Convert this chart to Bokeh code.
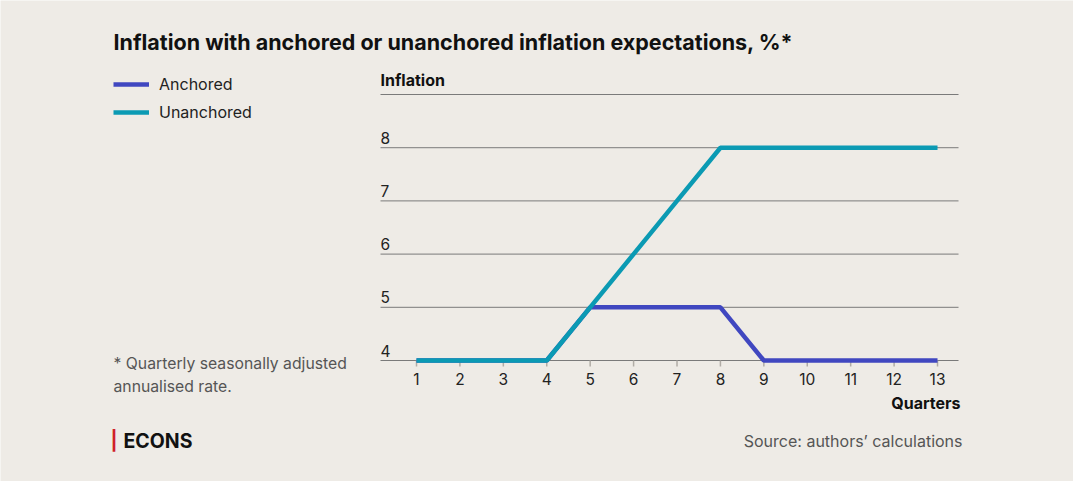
import math
from bokeh.plotting import figure
from bokeh.models import Label, Legend, LegendItem, Range1d
from bokeh.core.properties import value
from bokeh.embed import file_html
from bokeh.resources import INLINE

# ---- data ----
quarters = [1, 2, 3, 4, 5, 6, 7, 8, 9, 10, 11, 12, 13]
anchored = [4, 4, 4, 4, 5, 5, 5, 5, 4, 4, 4, 4, 4]
unanchored = [4, 4, 4, 4, 5, 6, 7, 8, 8, 8, 8, 8, 8]
x_tick_labels = [str(q) for q in quarters]
y_ticks = [4, 5, 6, 7, 8]
y_tick_labels = ["4", "5", "6", "7", "8"]
y_top = 9
y_top_label = "Inflation"

title_text = "Inflation with anchored or unanchored inflation expectations, %*"
note_lines = ["* Quarterly seasonally adjusted", "annualised rate."]
source_text = "Source: authors\u2019 calculations"
brand_text = "ECONS"
x_title = "Quarters"

BG = "#EEEBE6"
C_ANCH = "#4047C0"
C_UNANCH = "#0B9AB3"
FONT = "Inter"

W, H = 1073, 481
# data window of the whole canvas (frame == canvas)
X_START, X_END = -8.5815, 16.132
Y_START, Y_END = 1.7256, 10.767
# plotting area extent along x
PX0, PX1 = 0.171, 13.484

p = figure(width=W, height=H, output_backend="svg", toolbar_location=None,
           x_range=Range1d(X_START, X_END), y_range=Range1d(Y_START, Y_END),
           min_border=0)
p.background_fill_color = BG
p.border_fill_color = BG
p.outline_line_color = None
p.xaxis.visible = False
p.yaxis.visible = False
p.grid.visible = False

all_y = y_ticks + [y_top]
# horizontal gridlines
p.segment(x0=[PX0] * len(all_y), x1=[PX1] * len(all_y), y0=all_y, y1=all_y,
          line_color="#7a7a7a", line_width=1, level="underlay")
# x ticks
p.ray(x=quarters, y=[y_ticks[0]] * len(quarters), length=6, length_units="screen",
      angle=-math.pi / 2, line_color="#b0aca6", line_width=1.5, level="underlay")
# x tick labels
p.text(x=quarters, y=[y_ticks[0]] * len(quarters), text=x_tick_labels,
       text_font=value(FONT), text_font_size="15.5px", text_color="#222222",
       text_align="center", text_baseline="top", y_offset=12)
# y tick labels (above gridlines)
p.text(x=[PX0] * len(y_ticks), y=y_ticks, text=y_tick_labels, text_font=value(FONT),
       text_font_size="15.5px", text_color="#222222", text_baseline="bottom",
       text_align="left", y_offset=-4)
p.text(x=[PX0], y=[y_top], text=[y_top_label], text_font=value(FONT),
       text_font_size="16px", text_font_style="bold", text_color="#111111",
       text_baseline="bottom", text_align="left", y_offset=-5)

# lines
r_a = p.line(quarters, anchored, line_color=C_ANCH, line_width=4.5)
r_u = p.line(quarters, unanchored, line_color=C_UNANCH, line_width=4.5)

# legend
legend = Legend(items=[LegendItem(label=value("Anchored"), renderers=[r_a]),
                       LegendItem(label=value("Unanchored"), renderers=[r_u])],
                location=(113, H - 122), orientation="vertical",
                background_fill_alpha=0, border_line_color=None,
                padding=0, margin=0, spacing=8,
                glyph_width=36, glyph_height=20, label_height=20,
                label_standoff=10,
                label_text_font=FONT, label_text_font_size="16px",
                label_text_color="#222222")
p.add_layout(legend, "center")

def lab(px, py, text, size="16px", style="normal", color="#222222", align="left"):
    p.add_layout(Label(x=px, y=H - py, x_units="screen", y_units="screen",
                       text=text, text_font=FONT, text_font_size=size,
                       text_font_style=style, text_color=color,
                       text_align=align, text_baseline="middle"))

lab(113, 41, title_text, size="21.5px", style="bold", color="#111111")
lab(113, 363, note_lines[0], size="15.75px", color="#555555")
lab(113, 386, note_lines[1], size="15.75px", color="#555555")
lab(960, 402, x_title, size="16px", style="bold", color="#111111", align="right")
lab(962, 440, source_text, size="16px", color="#555555", align="right")
lab(110, 440, "|", size="19px", style="bold", color="#D0202A")
lab(123, 440, brand_text, size="19.5px", style="bold", color="#111111")

open("out.html", "w").write(file_html(p, INLINE))
